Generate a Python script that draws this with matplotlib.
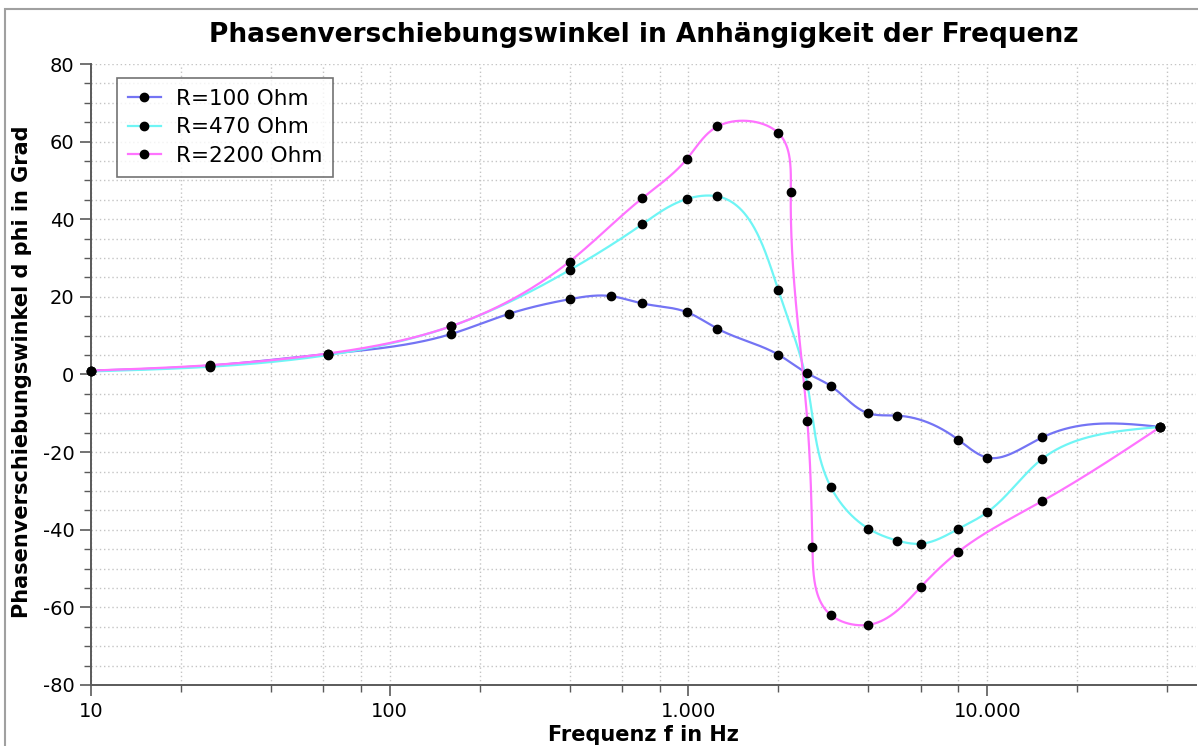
import numpy as np
import matplotlib
matplotlib.use("Agg")
import matplotlib.pyplot as plt
from matplotlib.ticker import FixedLocator, FuncFormatter, MultipleLocator
from matplotlib.patches import Rectangle

freq_100 = [10, 25, 62, 160, 250, 400, 550, 700, 985, 1250, 2000, 2500, 3000,
            4000, 5000, 8000, 10000, 15300, 38000]
phi_100 = [1.0, 2.3, 5.3, 10.4, 15.6, 19.4, 20.2, 18.3, 16.1, 11.8, 5.1, 0.3,
           -3.0, -10.0, -10.6, -16.8, -21.4, -16.2, -13.5]

freq_470 = [10, 25, 62, 160, 400, 700, 985, 1250, 2000, 2500, 3000, 4000,
            5000, 6000, 8000, 10000, 15300, 38000]
phi_470 = [0.8, 2.0, 5.0, 12.4, 26.9, 38.7, 45.2, 45.9, 21.7, -2.6, -29.1,
           -39.7, -42.8, -43.6, -39.8, -35.5, -21.7, -13.5]

freq_2200 = [10, 25, 62, 160, 400, 700, 985, 1250, 2000, 2200, 2500, 2600,
             3000, 4000, 6000, 8000, 15300, 38000]
phi_2200 = [1.0, 2.4, 5.4, 12.4, 29.1, 45.4, 55.4, 63.9, 62.2, 46.9, -12.0,
            -44.5, -62.0, -64.5, -54.7, -45.7, -32.6, -13.5]

labels = ["R=100 Ohm", "R=470 Ohm", "R=2200 Ohm"]
colors = ["#7474f4", "#6ff5f5", "#ff73ff"]


def natural_spline(t, v, tt):
    n = len(t)
    h = np.diff(t)
    A = np.zeros((n, n))
    b = np.zeros(n)
    A[0, 0] = A[-1, -1] = 1.0
    for i in range(1, n - 1):
        A[i, i - 1] = h[i - 1]
        A[i, i] = 2 * (h[i - 1] + h[i])
        A[i, i + 1] = h[i]
        b[i] = 3 * ((v[i + 1] - v[i]) / h[i] - (v[i] - v[i - 1]) / h[i - 1])
    c = np.linalg.solve(A, b)
    idx = np.clip(np.searchsorted(t, tt, side='right') - 1, 0, n - 2)
    d = (c[idx + 1] - c[idx]) / (3 * h[idx])
    bb = (v[idx + 1] - v[idx]) / h[idx] - h[idx] * (2 * c[idx] + c[idx + 1]) / 3
    dt = tt - t[idx]
    return v[idx] + bb * dt + c[idx] * dt**2 + d * dt**3


def smooth(xs, ys, n=1500):
    # parametric spline in screen-like units (log x, y)
    u = np.log10(np.array(xs, dtype=float)) * 299.0
    v = np.array(ys, dtype=float) * 3.88
    t = np.concatenate([[0], np.cumsum(np.hypot(np.diff(u), np.diff(v)))])
    tt = np.linspace(0, t[-1], n)
    su = natural_spline(t, u, tt)
    sv = natural_spline(t, v, tt)
    return 10 ** (su / 299.0), sv / 3.88


plt.rcParams['font.family'] = ['DejaVu Sans']
plt.rcParams['axes.unicode_minus'] = False

fig = plt.figure(figsize=(11.98, 7.46), dpi=100)
ax = fig.add_axes([91 / 1198, 1 - 685 / 746, (1196 - 91) / 1198, (685 - 64) / 746])

series = [(freq_100, phi_100), (freq_470, phi_470), (freq_2200, phi_2200)]
for (fx, fy), lab, col in zip(series, labels, colors):
    sx, sy = smooth(fx, fy)
    ax.plot(sx, sy, color=col, lw=1.6, zorder=3)
    ax.plot(fx, fy, 'o', color='black', ms=6, zorder=4, clip_on=False)
    ax.plot([], [], color=col, lw=1.6, marker='o', mfc='black', mec='black',
            ms=6, label=lab)

ax.set_xscale('log')
ax.set_xlim(10, 50000)
ax.set_ylim(-80, 80)

majors = [10, 100, 1000, 10000]
minors = [d * m for d in [10, 100, 1000, 10000] for m in [2, 4, 6, 8]]
minors = [v for v in minors if v < 50000]
ax.xaxis.set_major_locator(FixedLocator(majors))
ax.xaxis.set_minor_locator(FixedLocator(minors))
ax.xaxis.set_major_formatter(FuncFormatter(lambda v, p: f"{int(round(v)):,}".replace(",", ".")))
ax.xaxis.set_minor_formatter(FuncFormatter(lambda v, p: ""))
ax.yaxis.set_major_locator(MultipleLocator(20))
ax.yaxis.set_minor_locator(MultipleLocator(5))

ax.grid(True, which='both', color='#c4c4c4', lw=1.0, linestyle=(0, (1, 2)), zorder=0)
ax.set_axisbelow(True)

for s in ['top', 'right']:
    ax.spines[s].set_visible(False)
for s in ['left', 'bottom']:
    ax.spines[s].set_color('#5a5a5a')
    ax.spines[s].set_linewidth(1.4)

ax.tick_params(which='major', length=8, width=1.2, color='#5a5a5a', labelsize=14, pad=4)
ax.tick_params(which='minor', length=5, width=1.0, color='#5a5a5a')

fig.text(0.537, 1 - 42 / 746, "Phasenverschiebungswinkel in Anhängigkeit der Frequenz",
         ha='center', va='baseline', fontsize=19, fontweight='bold')
fig.text(22 / 1198, 1 - 372 / 746, "Phasenverschiebungswinkel d phi in Grad",
         ha='center', va='center', rotation=90, fontsize=15, fontweight='bold')
fig.text(0.537, 1 - 725 / 746, "Frequenz f in Hz",
         ha='center', va='top', fontsize=15, fontweight='bold')

leg = ax.legend(loc='upper left', bbox_to_anchor=(117 / 1198, 1 - 78 / 746),
                bbox_transform=fig.transFigure, borderaxespad=0, fontsize=15.5,
                frameon=True, fancybox=False, handlelength=1.55, handletextpad=0.7,
                labelspacing=0.4, borderpad=0.5)
leg.get_frame().set_edgecolor('#505050')
leg.get_frame().set_linewidth(1.2)

fig.patches.append(Rectangle((5 / 1198, -0.05), 1.1, 1 - 9 / 746 + 0.05,
                             transform=fig.transFigure, fill=False,
                             edgecolor='#a0a0a0', lw=1.5))

fig.savefig("out.png", dpi=100)
